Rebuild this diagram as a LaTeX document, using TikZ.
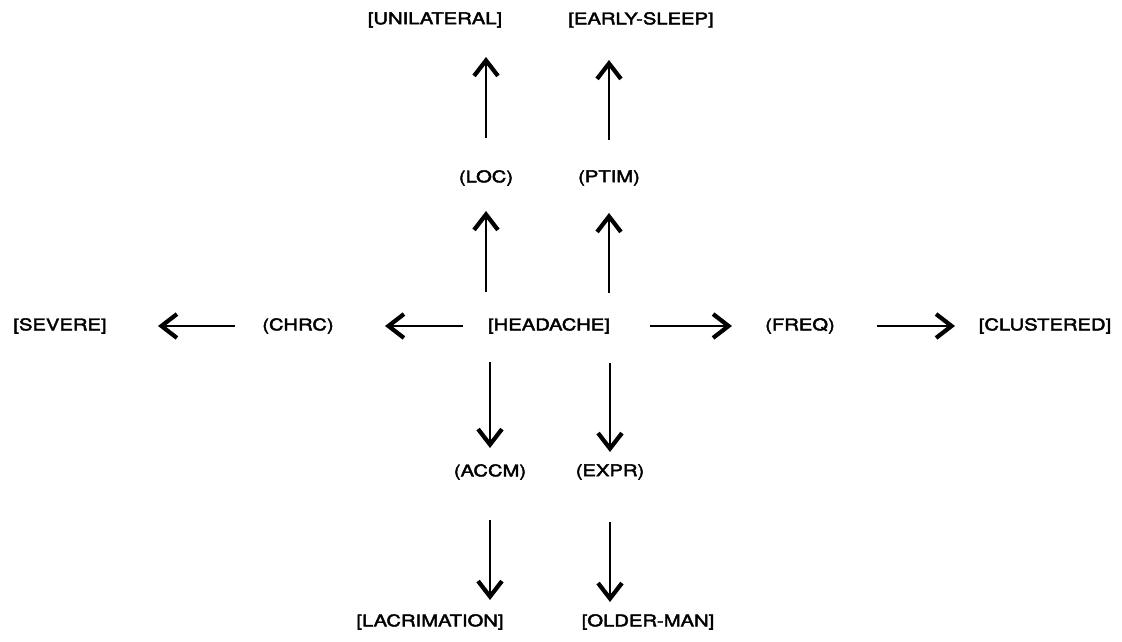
\documentclass[tikz,border=0pt]{standalone}
\usepackage{fontspec}
\usepackage{tikz}
\usetikzlibrary{arrows.meta}
\newfontfamily\labelfont[FakeStretch=1.25,FakeBold=2.5]{TeX Gyre Heros}
\newdimen\pxu
\pxu=0.7113pt
\tikzset{lbl/.style={inner sep=0pt, outer sep=0pt, font={\labelfont\fontsize{11.5pt}{13pt}\selectfont}}}
\tikzset{link/.style={-{Straight Barb[length=11pt,width=17pt,line width=3pt]}, line width=1.2pt}}
\begin{document}
\begin{tikzpicture}[x=0.025cm, y=-0.025cm]
\useasboundingbox (0,0) rectangle (1122,642);
{
\node[lbl] (headache) at (549,326) {[HEADACHE]};
\node[lbl] (chrc) at (298,326) {(CHRC)};
\node[lbl] (severe) at (60,326) {[SEVERE]};
\node[lbl] (freq) at (800,326) {(FREQ)};
\node[lbl] (clustered) at (1045,326) {[CLUSTERED]};
\node[lbl] (loc) at (486,178) {(LOC)};
\node[lbl] (ptim) at (609,178) {(PTIM)};
\node[lbl] (unilateral) at (435,20) {[UNILATERAL]};
\node[lbl] (earlysleep) at (641,20) {[EARLY-SLEEP]};
\node[lbl] (accm) at (490,472) {(ACCM)};
\node[lbl] (expr) at (610,472) {(EXPR)};
\node[lbl] (lacrimation) at (430,622) {[LACRIMATION]};
\node[lbl] (olderman) at (648,622) {[OLDER-MAN]};
\draw[link, shorten <=86\pxu, shorten >=87\pxu] (headache.center) -- (chrc.center);
\draw[link, shorten <=63\pxu, shorten >=98\pxu] (chrc.center) -- (severe.center);
\draw[link, shorten <=101\pxu, shorten >=68\pxu] (headache.center) -- (freq.center);
\draw[link, shorten <=77\pxu, shorten >=90\pxu] (freq.center) -- (clustered.center);
\draw[link, shorten <=34\pxu, shorten >=33\pxu] (loc.center |- headache.center) -- (loc.center);
\draw[link, shorten <=33\pxu, shorten >=35\pxu] (ptim.center |- headache.center) -- (ptim.center);
\draw[link, shorten <=40\pxu, shorten >=37\pxu] (loc.center) -- (loc.center |- unilateral.center);
\draw[link, shorten <=38\pxu, shorten >=40\pxu] (ptim.center) -- (ptim.center |- earlysleep.center);
\draw[link, shorten <=36\pxu, shorten >=24\pxu] (accm.center |- headache.center) -- (accm.center);
\draw[link, shorten <=37\pxu, shorten >=20\pxu] (expr.center |- headache.center) -- (expr.center);
\draw[link, shorten <=48\pxu, shorten >=22\pxu] (accm.center) -- (accm.center |- lacrimation.center);
\draw[link, shorten <=50\pxu, shorten >=20\pxu] (expr.center) -- (expr.center |- olderman.center);
}
\end{tikzpicture}
\end{document}
